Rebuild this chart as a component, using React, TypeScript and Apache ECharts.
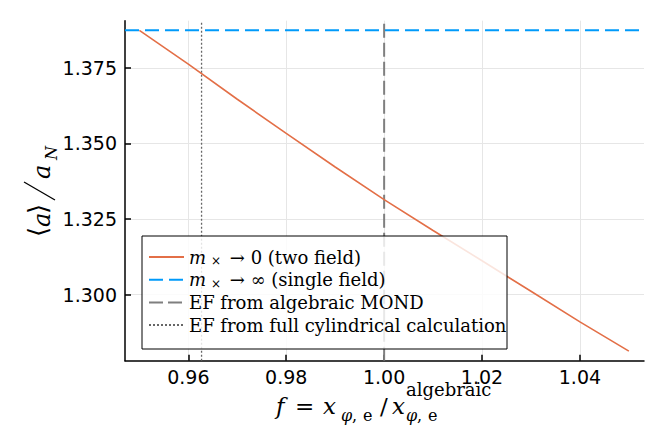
import React, { useEffect, useRef } from "react";
import * as echarts from "echarts";

// ---- data ----
const xTwoField = [0.95, 0.96, 0.97, 0.98, 0.99, 1.0, 1.01, 1.02, 1.03, 1.04, 1.05];
const yTwoField = [1.3874, 1.3762, 1.3646, 1.3533, 1.3422, 1.3314, 1.3212, 1.3112, 1.3011, 1.291, 1.2813];
const singleFieldValue = 1.3874;
const efAlgebraic = 1.0;
const efCylindrical = 0.9627;
const xRange = [0.94706, 1.05309];
const yRange = [1.27814, 1.39058];
const xTicks = [0.96, 0.98, 1.0, 1.02, 1.04];
const yTicks = [1.3, 1.325, 1.35, 1.375];
const seriesNames = ["twoField", "singleField", "efAlgebraic", "efCylindrical"];
const legendLabels: Record<string, string> = {
  twoField: "{i|m}{s|×}{r| → 0 (two field)}",
  singleField: "{i|m}{s|×}{r| → ∞ (single field)}",
  efAlgebraic: "{r|EF from algebraic MOND}",
  efCylindrical: "{r|EF from full cylindrical calculation}",
};

const SERIF = "DejaVu Serif";
const SANS = "DejaVu Sans";

function txt(text: string, x: number, y: number, size: number, italic = false): any {
  return {
    type: "text",
    x,
    y,
    z: 30,
    style: {
      text,
      fontFamily: SERIF,
      fontSize: size,
      fontStyle: italic ? "italic" : "normal",
      fill: "#000",
      align: "left",
      verticalAlign: "middle",
    },
  };
}

const LEGEND_BOX = { x: 142, y: 236, w: 365, h: 113 };
const LEGEND_ROW_CENTERS = [258, 280.7, 303.4, 326];

export default function App() {
  const ref = useRef<HTMLDivElement>(null);
  useEffect(() => {
    if (!ref.current) return;
    const chart = echarts.init(ref.current, null, { renderer: "svg" });

    const twoData = xTwoField.map((x, i) => [x, yTwoField[i]]);
    const singleData = [
      [xRange[0], singleFieldValue],
      [xRange[1], singleFieldValue],
    ];
    const algData = [
      [efAlgebraic, yRange[0]],
      [efAlgebraic, yRange[1]],
    ];
    const cylData = [
      [efCylindrical, yRange[0]],
      [efCylindrical, yRange[1]],
    ];

    const legends = seriesNames.map((name, i) => ({
      orient: "vertical",
      left: 148,
      top: LEGEND_ROW_CENTERS[i] - 10,
      data: [name],
      padding: 0,
      itemGap: 0,
      itemWidth: 35,
      itemHeight: 22,
      z: 20,
      selectedMode: false,
      itemStyle: { opacity: 0, borderWidth: 0 },
      formatter: (n: string) => legendLabels[n],
      textStyle: {
        color: "#000",
        rich: {
          i: { fontFamily: SERIF, fontStyle: "italic", fontSize: 18, lineHeight: 20 },
          s: { fontFamily: SERIF, fontSize: 12, lineHeight: 12, verticalAlign: "bottom", padding: [0, 3, 0, 5] },
          r: { fontFamily: SERIF, fontSize: 18, lineHeight: 20 },
        },
      },
    }));

    const option: any = {
      animation: false,
      backgroundColor: "#fff",
      grid: { left: 125, right: 20, top: 20.7, bottom: 82.3, containLabel: false },
      xAxis: {
        type: "value",
        min: xRange[0],
        max: xRange[1],
        axisLine: { show: true, onZero: false, lineStyle: { color: "#000", width: 1.5 } },
        axisTick: {
          show: true,
          inside: true,
          length: 6,
          customValues: xTicks,
          lineStyle: { color: "#000", width: 1.5 },
        },
        axisLabel: {
          customValues: xTicks,
          formatter: (v: number) => v.toFixed(2),
          fontFamily: SANS,
          fontSize: 19,
          color: "#000",
          margin: 7,
        },
        splitLine: { show: true, lineStyle: { color: "#e6e6e6", width: 1 } },
      },
      yAxis: {
        type: "value",
        min: yRange[0],
        max: yRange[1],
        axisLine: { show: true, onZero: false, lineStyle: { color: "#000", width: 1.5 } },
        axisTick: {
          show: true,
          inside: true,
          length: 6,
          customValues: yTicks,
          lineStyle: { color: "#000", width: 1.5 },
        },
        axisLabel: {
          customValues: yTicks,
          formatter: (v: number) => v.toFixed(3),
          fontFamily: SANS,
          fontSize: 19,
          color: "#000",
          margin: 8,
        },
        splitLine: { show: true, lineStyle: { color: "#e6e6e6", width: 1 } },
      },
      legend: legends,
      series: [
        {
          name: seriesNames[0],
          type: "line",
          data: twoData,
          symbol: "none",
          smooth: false,
          lineStyle: { color: "#E36F47", width: 1.6 },
          itemStyle: { color: "#E36F47", opacity: 0 },
          z: 4,
        },
        {
          name: seriesNames[1],
          type: "line",
          data: singleData,
          symbol: "none",
          lineStyle: { color: "#009AFA", width: 2, type: [14, 6] },
          itemStyle: { color: "#009AFA", opacity: 0 },
          z: 3,
        },
        {
          name: seriesNames[2],
          type: "line",
          data: algData,
          symbol: "none",
          lineStyle: { color: "#7f7f7f", width: 2, type: [14, 5] },
          itemStyle: { color: "#7f7f7f", opacity: 0 },
          z: 2,
        },
        {
          name: seriesNames[3],
          type: "line",
          data: cylData,
          symbol: "none",
          lineStyle: { color: "#666", width: 1.3, type: [2, 2] },
          itemStyle: { color: "#666", opacity: 0 },
          z: 2,
        },
      ],
      graphic: [
        // legend frame
        {
          type: "rect",
          z: 10,
          shape: { x: LEGEND_BOX.x, y: LEGEND_BOX.y, width: LEGEND_BOX.w, height: LEGEND_BOX.h },
          style: { fill: "rgba(255,255,255,0.82)", stroke: "#000", lineWidth: 1 },
        },
        // x-axis title: f = x_{φ,e} / x_{φ,e}^{algebraic}
        txt("f", 276, 405.5, 23, true),
        txt("=", 295, 405.5, 23),
        txt("x", 323, 405.5, 23, true),
        txt("φ", 341, 415, 16, true),
        txt(",", 352, 415, 16),
        txt("e", 363, 415, 16),
        txt("/", 380, 405.5, 23),
        txt("x", 392, 405.5, 23, true),
        txt("algebraic", 406, 389, 18),
        txt("φ", 406, 415.5, 16, true),
        txt(",", 417, 415.5, 16),
        txt("e", 428, 415.5, 16),
        // y-axis title: ⟨a⟩ / a_N (rotated, reads bottom-to-top)
        {
          type: "group",
          x: 0,
          y: 237,
          rotation: Math.PI / 2,
          children: [
            txt("⟨", 0, 38, 26),
            txt("a", 10, 41.5, 24, true),
            txt("⟩", 23, 38, 26),
            {
              type: "line",
              z: 30,
              shape: { x1: 37, y1: 55, x2: 55, y2: 24 },
              style: { stroke: "#000", lineWidth: 1.3 },
            },
            txt("a", 58, 41.5, 24, true),
            txt("N", 77, 51.5, 16, true),
          ],
        },
      ],
    };
    chart.setOption(option);
    return () => chart.dispose();
  }, []);

  return (
    <div
      ref={ref}
      style={{ position: "fixed", left: 0, top: 0, width: 664, height: 443, background: "#fff" }}
    />
  );
}
